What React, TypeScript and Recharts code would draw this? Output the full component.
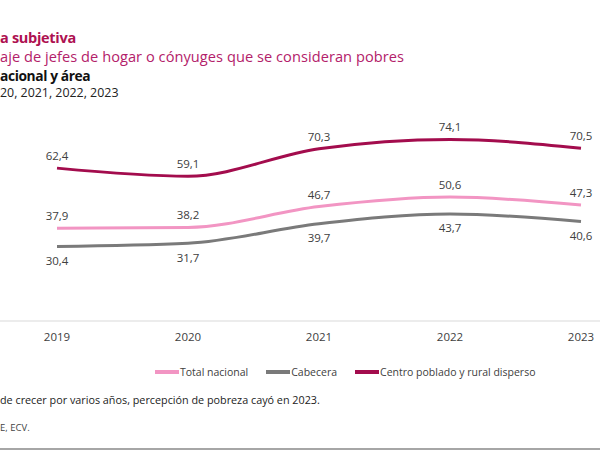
import React from "react";
import { LineChart, Line, XAxis, YAxis, LabelList } from "recharts";

const years = ["2019", "2020", "2021", "2022", "2023"];
const totalNacional = [37.9, 38.2, 46.7, 50.6, 47.3];
const cabecera = [30.4, 31.7, 39.7, 43.7, 40.6];
const centroPoblado = [62.4, 59.1, 70.3, 74.1, 70.5];

const seriesNames = ["Total nacional", "Cabecera", "Centro poblado y rural disperso"];

const PINK = "#F295C3";
const GRAY = "#7A7A7A";
const WINE = "#A30C4D";
const TEXT = "#404040";
const FONT = "'Open Sans', 'Noto Sans', sans-serif";

const data = years.map((year, i) => ({
  year,
  total: totalNacional[i],
  cabecera: cabecera[i],
  centro: centroPoblado[i],
}));

const fmt = (v: number) => v.toFixed(1).replace(".", ",");

const legendItems = [
  { name: seriesNames[0], color: PINK },
  { name: seriesNames[1], color: GRAY },
  { name: seriesNames[2], color: WINE },
];

function TextLine({
  top,
  children,
  style,
}: {
  top: number;
  children: React.ReactNode;
  style?: React.CSSProperties;
}) {
  return (
    <div
      style={{
        position: "absolute",
        left: 0,
        top: top - 8,
        height: 16,
        lineHeight: "16px",
        whiteSpace: "nowrap",
        ...style,
      }}
    >
      {children}
    </div>
  );
}

export default function App() {
  return (
    <div
      style={{
        position: "absolute",
        left: 0,
        top: 0,
        width: 600,
        height: 450,
        overflow: "hidden",
        background: "#fff",
        fontFamily: FONT,
      }}
    >
      <TextLine top={37.5} style={{ fontSize: 14.5, fontWeight: 700, color: "#AE1151", letterSpacing: -0.3 }}>
        a subjetiva
      </TextLine>
      <TextLine top={56} style={{ fontSize: 14.6, color: "#B3216A", letterSpacing: 0.05 }}>
        aje de jefes de hogar o cónyuges que se consideran pobres
      </TextLine>
      <TextLine top={76} style={{ fontSize: 13.8, fontWeight: 700, color: "#111", letterSpacing: -0.4 }}>
        acional y área
      </TextLine>
      <TextLine top={93} style={{ fontSize: 12.4, color: "#222" }}>
        20, 2021, 2022, 2023
      </TextLine>

      <div style={{ position: "absolute", left: 0, top: 0 }}>
        <LineChart
          width={600}
          height={450}
          data={data}
          margin={{ top: 125, right: 0, left: 0, bottom: 99 }}
        >
          <YAxis hide domain={[0, 80]} />
          <XAxis
            dataKey="year"
            height={30}
            padding={{ left: 57, right: 19 }}
            axisLine={{ stroke: "#D9D9D9" }}
            tickLine={false}
            tickSize={0}
            tickMargin={12}
            tick={{ fill: TEXT, fontSize: 11.5, fontFamily: FONT }}
          />
          <Line
            dataKey="centro"
            name={seriesNames[2]}
            type="monotone"
            stroke={WINE}
            strokeWidth={3}
            dot={false}
            isAnimationActive={false}
          >
            <LabelList
              dataKey="centro"
              position="top"
              offset={8}
              formatter={fmt}
              style={{ fill: TEXT, fontSize: 11.5, fontFamily: FONT }}
            />
          </Line>
          <Line
            dataKey="total"
            name={seriesNames[0]}
            type="monotone"
            stroke={PINK}
            strokeWidth={3}
            dot={false}
            isAnimationActive={false}
          >
            <LabelList
              dataKey="total"
              position="top"
              offset={8}
              formatter={fmt}
              style={{ fill: TEXT, fontSize: 11.5, fontFamily: FONT }}
            />
          </Line>
          <Line
            dataKey="cabecera"
            name={seriesNames[1]}
            type="monotone"
            stroke={GRAY}
            strokeWidth={3}
            dot={false}
            isAnimationActive={false}
          >
            <LabelList
              dataKey="cabecera"
              position="bottom"
              offset={10}
              formatter={fmt}
              style={{ fill: TEXT, fontSize: 11.5, fontFamily: FONT }}
            />
          </Line>
        </LineChart>
      </div>

      <div
        style={{
          position: "absolute",
          left: 155,
          top: 362,
          height: 20,
          display: "flex",
          alignItems: "center",
          fontSize: 10.5,
          color: TEXT,
          whiteSpace: "nowrap",
        }}
      >
        {legendItems.map((item, i) => (
          <div
            key={item.name}
            style={{ display: "flex", alignItems: "center", marginLeft: i === 0 ? 0 : 18 }}
          >
            <span
              style={{
                display: "inline-block",
                width: 24,
                height: 4,
                background: item.color,
                marginRight: 1,
              }}
            />
            {item.name}
          </div>
        ))}
      </div>

      <TextLine top={400} style={{ fontSize: 10.8, color: "#222" }}>
        {" "}de crecer por varios años, percepción de pobreza cayó en 2023.
      </TextLine>
      <TextLine top={428} style={{ fontSize: 9.5, color: "#444" }}>
        E, ECV.
      </TextLine>
      <div
        style={{
          position: "absolute",
          left: 0,
          top: 448,
          width: 600,
          height: 2,
          background: "#A6A6A6",
        }}
      />
    </div>
  );
}
